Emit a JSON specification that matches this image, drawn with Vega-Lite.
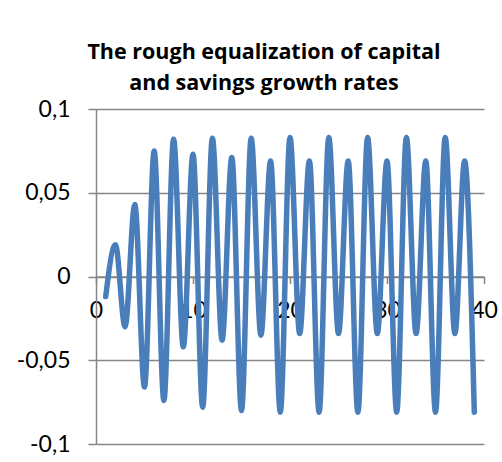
{
  "$schema": "https://vega.github.io/schema/vega-lite/v6.json",
  "width": 388,
  "height": 335,
  "autosize": {"type": "none"},
  "padding": {"left": 96, "top": 109, "right": 18, "bottom": 18},
  "background": "white",
  "title": {
    "text": ["The rough equalization of capital", "and savings growth rates"],
    "font": "Open Sans",
    "fontSize": 21.5,
    "fontWeight": "bold",
    "color": "black",
    "lineHeight": 31,
    "anchor": "middle",
    "dx": -26,
    "offset": 4
  },
  "config": {
    "view": {"stroke": null},
    "axis": {"labelFont": "Lato", "labelFontSize": 23, "labelColor": "black", "domainColor": "#868686", "tickColor": "#868686", "gridColor": "#868686", "domainWidth": 1.5, "tickWidth": 1.5, "gridWidth": 1.5}
  },
  "data": {
    "values": [
      {"t": 1, "v": -0.012}, {"t": 2, "v": 0.019}, {"t": 3, "v": -0.030}, {"t": 4, "v": 0.043},
      {"t": 5, "v": -0.066}, {"t": 6, "v": 0.075}, {"t": 7, "v": -0.074}, {"t": 8, "v": 0.082},
      {"t": 9, "v": -0.042}, {"t": 10, "v": 0.073}, {"t": 11, "v": -0.078}, {"t": 12, "v": 0.0825},
      {"t": 13, "v": -0.038}, {"t": 14, "v": 0.071}, {"t": 15, "v": -0.080}, {"t": 16, "v": 0.0825},
      {"t": 17, "v": -0.035}, {"t": 18, "v": 0.069}, {"t": 19, "v": -0.081}, {"t": 20, "v": 0.083},
      {"t": 21, "v": -0.034}, {"t": 22, "v": 0.069}, {"t": 23, "v": -0.081}, {"t": 24, "v": 0.083},
      {"t": 25, "v": -0.034}, {"t": 26, "v": 0.069}, {"t": 27, "v": -0.081}, {"t": 28, "v": 0.083},
      {"t": 29, "v": -0.034}, {"t": 30, "v": 0.069}, {"t": 31, "v": -0.081}, {"t": 32, "v": 0.083},
      {"t": 33, "v": -0.034}, {"t": 34, "v": 0.069}, {"t": 35, "v": -0.081}, {"t": 36, "v": 0.083},
      {"t": 37, "v": -0.034}, {"t": 38, "v": 0.069}, {"t": 39, "v": -0.081}
    ]
  },
  "mark": {"type": "line", "interpolate": "monotone", "color": "#4A7EBB", "strokeWidth": 5.5, "strokeCap": "round", "strokeJoin": "round"},
  "encoding": {
    "x": {
      "field": "t", "type": "quantitative",
      "scale": {"domain": [0, 40], "nice": false, "zero": false},
      "axis": {"title": null, "values": [0, 10, 20, 30, 40], "grid": false, "offset": -167.5, "tickSize": 7, "labelPadding": 16, "labelFlush": false}
    },
    "y": {
      "field": "v", "type": "quantitative",
      "scale": {"domain": [-0.1, 0.1], "nice": false},
      "axis": {"title": null, "values": [-0.1, -0.05, 0, 0.05, 0.1], "grid": true, "tickSize": 8, "labelPadding": 18, "labelExpr": "replace(toString(datum.value), '.', ',')"}
    }
  }
}
